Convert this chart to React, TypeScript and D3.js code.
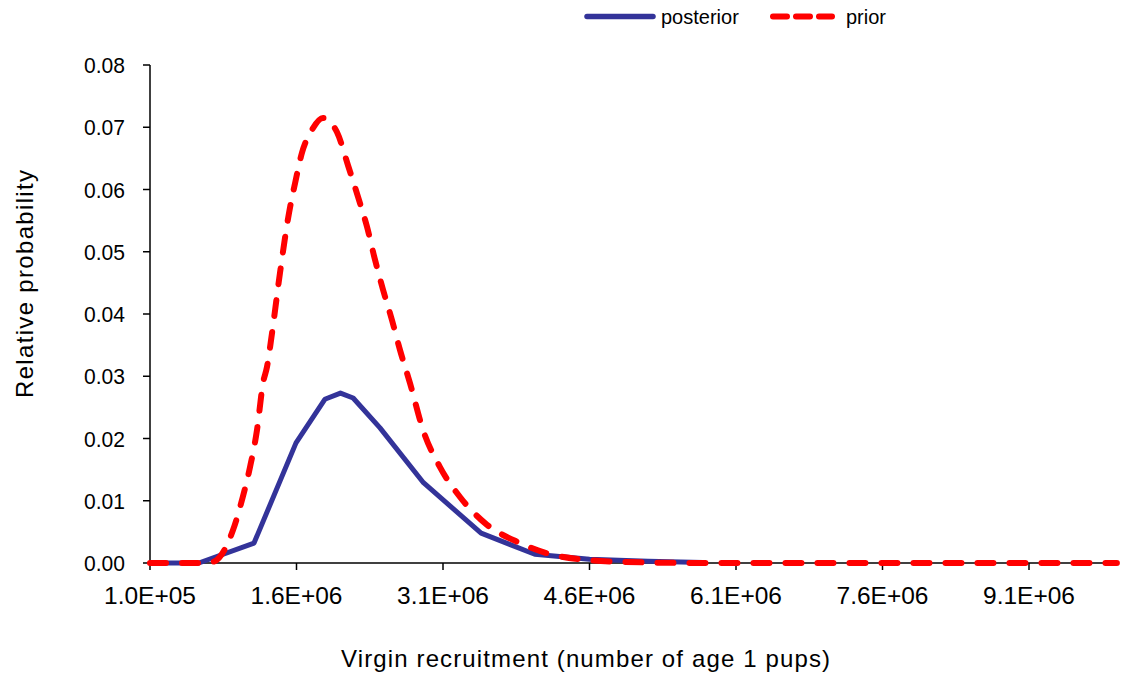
import React from "react";
import * as d3 from "d3";

// x values in units of 1e6 pups
const posteriorX = [0.1, 0.6, 1.165, 1.595, 1.89, 2.05, 2.18, 2.455, 2.9, 3.49, 4.04, 4.6, 5.2, 5.76];
const posteriorY = [0, 0, 0.0032, 0.0193, 0.0263, 0.0273, 0.0265, 0.0217, 0.0129, 0.0048, 0.0014, 0.0006, 0.0003, 0.0001];

const priorX = [0.1, 0.6, 0.745, 0.95, 1.05, 1.124, 1.196, 1.257, 1.298, 1.349, 1.431, 1.523, 1.585, 1.656, 1.759, 1.871, 2.015, 2.127, 2.23, 2.322, 2.404, 2.486, 2.578, 2.66, 2.762, 2.895, 3.069, 3.274, 3.53, 3.889, 4.226, 4.574, 4.912, 5.73, 7.0, 8.5, 10.0];
const priorY = [0, 0, 0.0002, 0.0053, 0.0106, 0.0154, 0.0214, 0.0289, 0.0315, 0.0369, 0.0466, 0.0562, 0.061, 0.0659, 0.0696, 0.0715, 0.0692, 0.0639, 0.0588, 0.054, 0.0487, 0.0439, 0.039, 0.0342, 0.0289, 0.0214, 0.0154, 0.0106, 0.0064, 0.0032, 0.0013, 0.0005, 0.0002, 0, 0, 0, 0];

const xTickValues = [0.1, 1.6, 3.1, 4.6, 6.1, 7.6, 9.1];
const xTickLabels = ["1.0E+05", "1.6E+06", "3.1E+06", "4.6E+06", "6.1E+06", "7.6E+06", "9.1E+06"];
const yTickValues = [0, 0.01, 0.02, 0.03, 0.04, 0.05, 0.06, 0.07, 0.08];

const seriesNames = ["posterior", "prior"];
const xTitle = "Virgin recruitment (number of age 1 pups)";
const yTitle = "Relative probability";

export default function App() {
  const W = 1124, H = 675;
  const left = 150, right = 1118, top = 65, bottom = 563;
  const x = d3.scaleLinear().domain([0.1, 0.1 + (968 / 146.5) * 1.5]).range([left, right]);
  const y = d3.scaleLinear().domain([0, 0.08]).range([bottom, top]);
  const font = "'Liberation Sans', Arial, sans-serif";

  const post = posteriorX.map((v, i) => [v, posteriorY[i]] as [number, number]);
  const pri = priorX.map((v, i) => [v, priorY[i]] as [number, number]);
  const linePost = d3.line<[number, number]>().x(d => x(d[0])).y(d => y(d[1]));
  const linePrior = d3.line<[number, number]>().x(d => x(d[0])).y(d => y(d[1])).curve(d3.curveMonotoneX);

  return (
    <svg width={W} height={H} style={{ position: "absolute", left: 0, top: 0, background: "#fff" }} fontFamily={font}>
      {/* axes */}
      <line x1={left} x2={left} y1={top} y2={bottom} stroke="#000" strokeWidth={1.5} />
      <line x1={left} x2={right} y1={bottom} y2={bottom} stroke="#000" strokeWidth={1.5} />
      {yTickValues.map((t, i) => (
        <g key={"y" + i}>
          <line x1={left - 7} x2={left} y1={y(t)} y2={y(t)} stroke="#000" strokeWidth={1.5} />
          <text x={125} y={y(t) + 8} textAnchor="end" fontSize={22} fill="#000" textLength={41} lengthAdjust="spacingAndGlyphs">{t.toFixed(2)}</text>
        </g>
      ))}
      {xTickValues.map((t, i) => (
        <g key={"x" + i}>
          <line x1={x(t)} x2={x(t)} y1={bottom} y2={bottom + 7} stroke="#000" strokeWidth={1.5} />
          <text x={x(t)} y={604} textAnchor="middle" fontSize={24.5} fill="#000">{xTickLabels[i]}</text>
        </g>
      ))}
      <text x={341} y={667} fontSize={24} fill="#000" textLength={489} lengthAdjust="spacing">{xTitle}</text>
      <text transform={`translate(33,${398}) rotate(-90)`} fontSize={24} fill="#000" textLength={228} lengthAdjust="spacing">{yTitle}</text>

      {/* series */}
      <path d={linePost(post) || ""} fill="none" stroke="#333399" strokeWidth={5} strokeLinejoin="round" />
      <path d={linePrior(pri) || ""} fill="none" stroke="#ff0000" strokeWidth={6} strokeDasharray="16 16" strokeLinecap="round" strokeLinejoin="round" />

      {/* legend */}
      <line x1={587} x2={653} y1={16.5} y2={16.5} stroke="#333399" strokeWidth={5.5} strokeLinecap="round" />
      <text x={661} y={24} fontSize={20} fill="#000">{seriesNames[0]}</text>
      <line x1={773} x2={832} y1={16.5} y2={16.5} stroke="#ff0000" strokeWidth={6} strokeDasharray="14 9" strokeLinecap="round" />
      <text x={846} y={24} fontSize={20} fill="#000">{seriesNames[1]}</text>
    </svg>
  );
}
